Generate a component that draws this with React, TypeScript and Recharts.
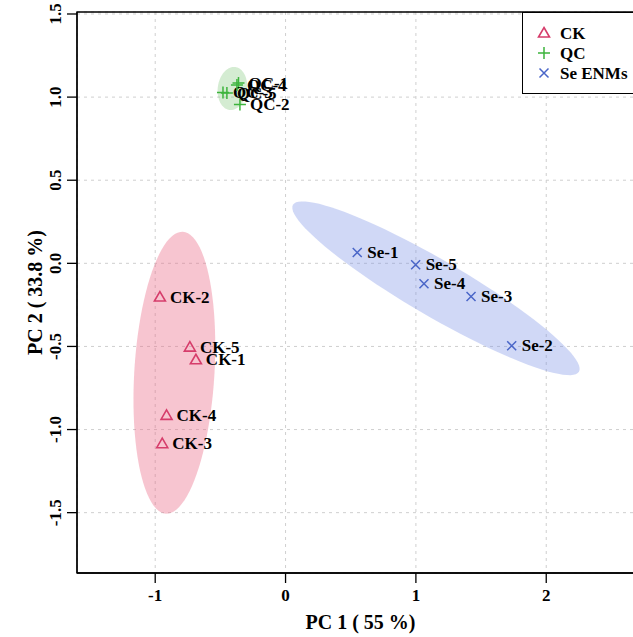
import { ScatterChart, Scatter, XAxis, YAxis, CartesianGrid, ReferenceArea, Label } from 'recharts'

const FONT = '"Liberation Serif", "Times New Roman", serif'

// sample scores
const ckNames = ['CK-1', 'CK-2', 'CK-3', 'CK-4', 'CK-5']
const ckPc1 = [-0.688, -0.964, -0.946, -0.913, -0.734]
const ckPc2 = [-0.58, -0.203, -1.085, -0.915, -0.504]

const qcNames = ['QC-1', 'QC-2', 'QC-3', 'QC-4', 'QC-5']
const qcPc1 = [-0.361, -0.35, -0.48, -0.373, -0.45]
const qcPc2 = [1.085, 0.956, 1.028, 1.073, 1.025]

const seNames = ['Se-1', 'Se-2', 'Se-3', 'Se-4', 'Se-5']
const sePc1 = [0.55, 1.735, 1.423, 1.062, 0.998]
const sePc2 = [0.065, -0.496, -0.2, -0.123, -0.009]

// confidence ellipses: centre x, centre y, half axis a (x, y), half axis b (x, y)
const ckEllipse = [-0.853, -0.658, 0.065, 0.848, 0.307, -0.0144]
const qcEllipse = [-0.408, 1.052, 0.023, 0.129, 0.111, -0.012]
const seEllipse = [1.154, -0.15, 1.097, -0.502, -0.108, -0.146]

const xTicks = [-1, 0, 1, 2]
const yTicks = [-1.5, -1, -0.5, 0, 0.5, 1, 1.5]
const xDomain: [number, number] = [-1.6, 2.75]
const yDomain: [number, number] = [-1.863, 1.512]

const groups = [
  { name: 'CK', color: '#d63d6b', fill: '#eb6e8a', opacity: 0.4 },
  { name: 'QC', color: '#3db43d', fill: '#84c97e', opacity: 0.35 },
  { name: 'Se ENMs', color: '#4a66c8', fill: '#7990e5', opacity: 0.35 },
]

const toPoints = (names: string[], xs: number[], ys: number[]) =>
  names.map((name, i) => ({ name, x: xs[i], y: ys[i] }))

const ellipsePoints = (e: number[]) => {
  const [cx, cy, ax, ay, bx, by] = e
  const pts = []
  for (let i = 0; i <= 96; i++) {
    const t = (i / 96) * Math.PI * 2
    pts.push({ x: cx + ax * Math.cos(t) + bx * Math.sin(t), y: cy + ay * Math.cos(t) + by * Math.sin(t) })
  }
  return pts
}

const ckData = toPoints(ckNames, ckPc1, ckPc2)
const qcData = toPoints(qcNames, qcPc1, qcPc2)
const seData = toPoints(seNames, sePc1, sePc2)

const labelStyle = { fontFamily: FONT, fontWeight: 'bold' as const, fontSize: 17, fill: '#000' }

const glyph = (kind: string, cx: number, cy: number, color: string) => {
  if (kind === 'CK')
    return (
      <polygon
        points={`${cx},${cy - 5.5} ${cx + 5.5},${cy + 4} ${cx - 5.5},${cy + 4}`}
        fill="none"
        stroke={color}
        strokeWidth={1.6}
      />
    )
  if (kind === 'QC')
    return (
      <path d={`M${cx - 6},${cy}H${cx + 6}M${cx},${cy - 6}V${cy + 6}`} stroke={color} strokeWidth={1.5} />
    )
  return (
    <path
      d={`M${cx - 4.5},${cy - 4.5}L${cx + 4.5},${cy + 4.5}M${cx - 4.5},${cy + 4.5}L${cx + 4.5},${cy - 4.5}`}
      stroke={color}
      strokeWidth={1.5}
    />
  )
}

const markerShape = (kind: string, color: string) => (props: any) => {
  const { cx, cy, payload } = props
  return (
    <g>
      {glyph(kind, cx, cy, color)}
      <text x={cx + 10} y={cy} dy="0.33em" {...labelStyle}>
        {payload.name}
      </text>
    </g>
  )
}

const YTick = (props: any) => {
  const { x, y, payload } = props
  const cx = x - 10
  return (
    <text
      x={cx}
      y={y}
      dy="0.35em"
      textAnchor="middle"
      transform={`rotate(-90 ${cx} ${y})`}
      fontFamily={FONT}
      fontWeight="bold"
      fontSize={17}
      fill="#000"
    >
      {payload.value.toFixed(1)}
    </text>
  )
}

const XTitle = (props: any) => {
  const { x, y, width, height } = props.viewBox
  return (
    <text x={x + width / 2} y={y + height - 8} textAnchor="middle" fontFamily={FONT} fontWeight="bold" fontSize={20}>
      PC 1 ( 55 %)
    </text>
  )
}

const YTitle = (props: any) => {
  const { x, y, height } = props.viewBox
  const cx = x + 35
  const cy = y + height / 2
  return (
    <text
      x={cx}
      y={cy}
      dy="0.35em"
      textAnchor="middle"
      transform={`rotate(-90 ${cx} ${cy})`}
      fontFamily={FONT}
      fontWeight="bold"
      fontSize={20}
    >
      PC 2 ( 33.8 %)
    </text>
  )
}

const hidden = () => <g />

export default function App() {
  return (
    <div style={{ position: 'absolute', left: 0, top: 0, width: 633, height: 637, overflow: 'hidden', background: '#fff' }}>
      <ScatterChart width={660} height={637} margin={{ top: 12, right: 16, bottom: 0, left: 0 }}>
        <CartesianGrid stroke="#cfcfcf" strokeDasharray="3 4" />
        <XAxis
          type="number"
          dataKey="x"
          domain={xDomain}
          ticks={xTicks}
          allowDataOverflow
          height={64}
          tickSize={10}
          tickMargin={6}
          axisLine={{ stroke: '#000', strokeWidth: 1.3 }}
          tickLine={{ stroke: '#000', strokeWidth: 1.3 }}
          tick={{ fontFamily: FONT, fontWeight: 'bold', fontSize: 17, fill: '#000' }}
        >
          <Label content={XTitle} />
        </XAxis>
        <YAxis
          type="number"
          dataKey="y"
          domain={yDomain}
          ticks={yTicks}
          allowDataOverflow
          width={77}
          tickSize={10}
          tickMargin={2}
          axisLine={{ stroke: '#000', strokeWidth: 1.3 }}
          tickLine={{ stroke: '#000', strokeWidth: 1.3 }}
          tick={YTick}
        >
          <Label content={YTitle} />
        </YAxis>
        <ReferenceArea
          x1={xDomain[0]}
          x2={xDomain[1]}
          y1={yDomain[0]}
          y2={yDomain[1]}
          fill="none"
          stroke="#000"
          strokeWidth={1.3}
        />
        {[ckEllipse, qcEllipse, seEllipse].map((e, i) => (
          <Scatter
            key={groups[i].name + '-ellipse'}
            data={ellipsePoints(e)}
            shape={hidden}
            line={{ fill: groups[i].fill, fillOpacity: groups[i].opacity, stroke: 'none' }}
            isAnimationActive={false}
          />
        ))}
        <Scatter data={ckData} shape={markerShape('CK', groups[0].color)} isAnimationActive={false} />
        <Scatter data={qcData} shape={markerShape('QC', groups[1].color)} isAnimationActive={false} />
        <Scatter data={seData} shape={markerShape('Se', groups[2].color)} isAnimationActive={false} />
      </ScatterChart>
      <div
        style={{
          position: 'absolute',
          left: 522,
          top: 12,
          width: 140,
          height: 82,
          border: '1.3px solid #000',
          background: '#fff',
          boxSizing: 'border-box',
        }}
      >
        <svg width={140} height={82} style={{ display: 'block' }}>
          {groups.map((g, i) => {
            const cy = 20 + i * 20
            const kind = i === 0 ? 'CK' : i === 1 ? 'QC' : 'Se'
            return (
              <g key={g.name}>
                {glyph(kind, 21, cy, g.color)}
                <text x={37} y={cy} dy="0.33em" {...labelStyle}>
                  {g.name}
                </text>
              </g>
            )
          })}
        </svg>
      </div>
    </div>
  )
}
